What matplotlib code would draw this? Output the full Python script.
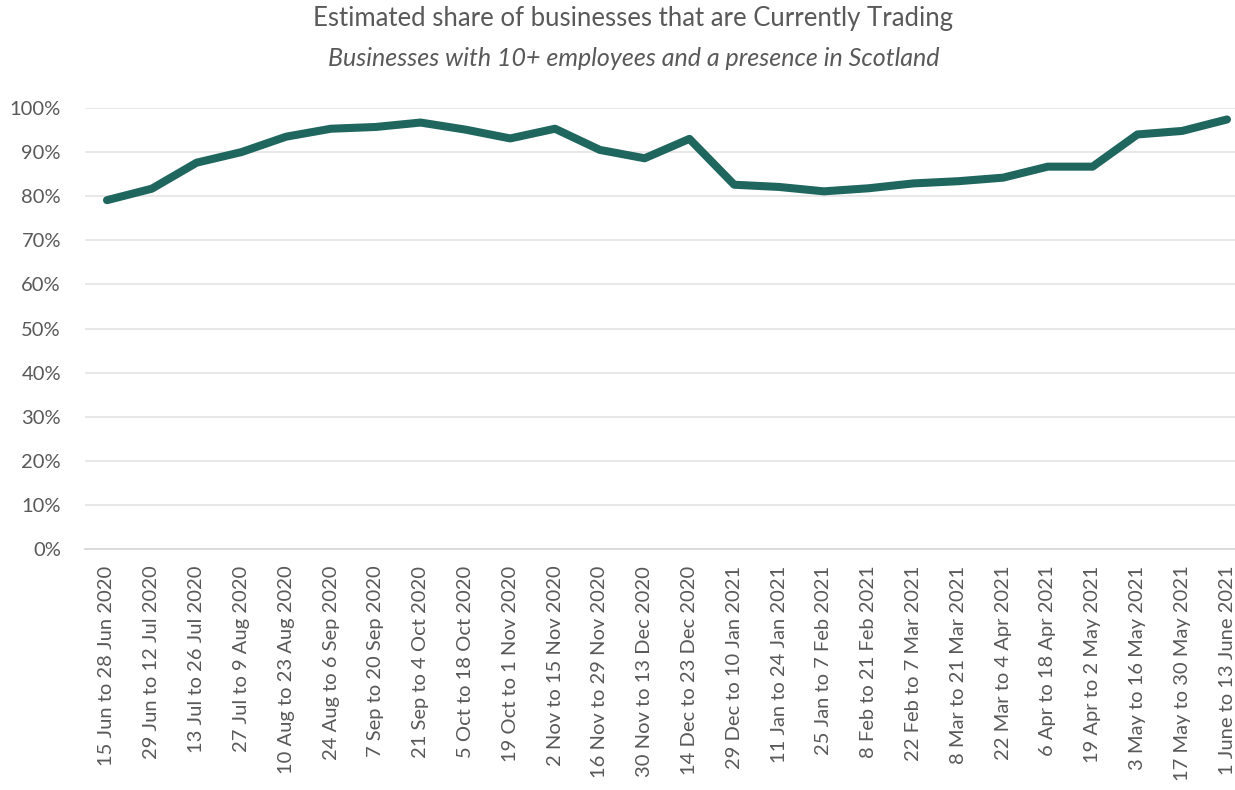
import matplotlib.pyplot as plt
from matplotlib.ticker import PercentFormatter

plt.rcParams['font.family'] = ['Lato', 'DejaVu Sans']

periods = ['15 Jun to 28 Jun 2020', '29 Jun to 12 Jul 2020', '13 Jul to 26 Jul 2020',
           '27 Jul to 9 Aug 2020', '10 Aug to 23 Aug 2020', '24 Aug to 6 Sep 2020',
           '7 Sep to 20 Sep 2020', '21 Sep to 4 Oct 2020', '5 Oct to 18 Oct 2020',
           '19 Oct to 1 Nov 2020', '2 Nov to 15 Nov 2020', '16 Nov to 29 Nov 2020',
           '30 Nov to 13 Dec 2020', '14 Dec to 23 Dec 2020', '29 Dec to 10 Jan 2021',
           '11 Jan to 24 Jan 2021', '25 Jan to 7 Feb 2021', '8 Feb to 21 Feb 2021',
           '22 Feb to 7 Mar 2021', '8 Mar to 21 Mar 2021', '22 Mar to 4 Apr 2021',
           '6 Apr to 18 Apr 2021', '19 Apr to 2 May 2021', '3 May to 16 May 2021',
           '17 May to 30 May 2021', '1 June to 13 June 2021']
trading = [79.1, 81.7, 87.6, 90.0, 93.5, 95.3, 95.7, 96.7, 95.1, 93.1, 95.3, 90.5, 88.6,
           93.0, 82.6, 82.1, 81.1, 81.8, 82.9, 83.4, 84.2, 86.7, 86.7, 94.0, 94.8, 97.4]

grey = '#595959'

fig = plt.figure(figsize=(12.35, 7.9), dpi=100)
# plot area runs past the right edge, as in the original
ax = fig.add_axes([84.6 / 1235, 1 - 549 / 790, (1249.4 - 84.6) / 1235, (549 - 108) / 790])

x = range(len(periods))
ax.plot(x, trading, color='#1e665e', linewidth=5.8, solid_capstyle='round', solid_joinstyle='round', zorder=3)

ax.set_ylim(0, 100)
ax.set_xlim(-0.5, len(periods) - 0.5)
ax.set_yticks(range(0, 101, 10))
ax.yaxis.set_major_formatter(PercentFormatter(decimals=0))
ax.set_xticks(list(x))
ax.set_xticklabels(periods, rotation=90)
ax.grid(axis='y', color='#e6e6e6', linewidth=1.3)
ax.set_axisbelow(True)
for s in ['top', 'right', 'left']:
    ax.spines[s].set_visible(False)
ax.spines['bottom'].set_color('#d9d9d9')
ax.spines['bottom'].set_linewidth(1.3)
ax.tick_params(axis='both', length=0, colors=grey, labelsize=14.5)
ax.tick_params(axis='y', pad=17)
ax.tick_params(axis='x', pad=12)

fig.text(0.513, 0.977, 'Estimated share of businesses that are Currently Trading',
         ha='center', va='center', fontsize=18.5, color=grey)
fig.text(0.513, 0.926, 'Businesses with 10+ employees and a presence in Scotland',
         ha='center', va='center', fontsize=18, color=grey, style='italic')

fig.savefig('out.png', dpi=100)
